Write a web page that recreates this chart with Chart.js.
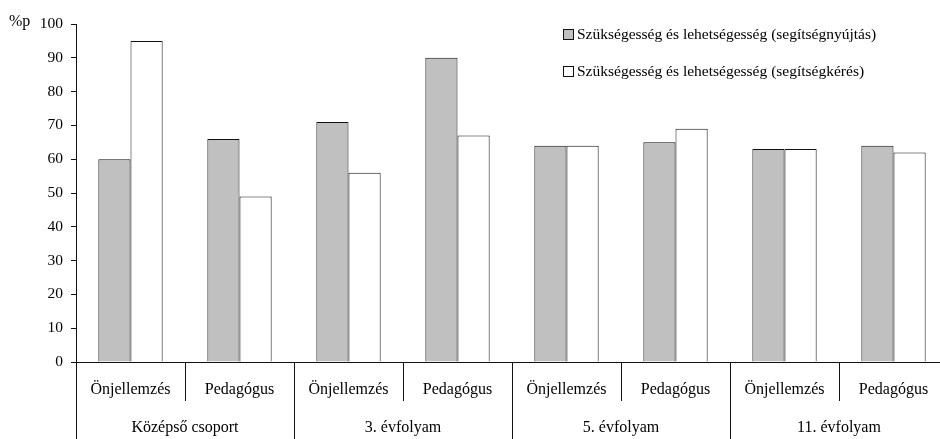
<!DOCTYPE html>
<html>
<head>
<meta charset="utf-8">
<script src="https://cdn.jsdelivr.net/npm/chart.js@4/dist/chart.umd.min.js"></script>
<style>
    html, body { margin: 0; padding: 0; overflow: hidden; background: #fff; }
    #wrap { width: 960px; height: 439px; }
</style>
</head>
<body>
<div id="wrap"><canvas id="chart"></canvas></div>
<script>
// data
const subLabels = ['Önjellemzés', 'Pedagógus', 'Önjellemzés', 'Pedagógus', 'Önjellemzés', 'Pedagógus', 'Önjellemzés', 'Pedagógus'];
const groupLabels = ['Középső csoport', '3. évfolyam', '5. évfolyam', '11. évfolyam'];
const seriesNames = ['Szükségesség és lehetségesség (segítségnyújtás)', 'Szükségesség és lehetségesség (segítségkérés)'];
const helpGiving = [60, 66, 71, 90, 64, 65, 63, 64];
const helpSeeking = [95, 49, 56, 67, 64, 69, 63, 62];
const yTicks = [0, 10, 20, 30, 40, 50, 60, 70, 80, 90, 100];
const yUnit = '%p';

const FONT = 'Liberation Serif, Times New Roman, serif';
const INK = '#111';

// group labels, category dividers, legend and unit label
const extras = {
    id: 'extras',
    afterDraw(chart) {
        const c = chart.ctx;
        const x = chart.scales.x;
        const area = chart.chartArea;
        const step = x.getPixelForValue(1) - x.getPixelForValue(0);
        c.save();
        c.strokeStyle = INK;
        c.lineWidth = 1;
        for (let i = 0; i <= subLabels.length; i++) {
            const px = Math.round(x.getPixelForValue(0) - step / 2 + i * step) + 0.5;
            const end = i % 2 === 0 ? chart.height : area.bottom + 39;
            c.beginPath();
            c.moveTo(px, area.bottom);
            c.lineTo(px, end);
            c.stroke();
        }
        c.fillStyle = '#000';
        c.font = '16px ' + FONT;
        c.textAlign = 'center';
        c.textBaseline = 'middle';
        groupLabels.forEach((g, i) => {
            const px = (x.getPixelForValue(i * 2) + x.getPixelForValue(i * 2 + 1)) / 2;
            c.fillText(g, px, area.bottom + 66);
        });

        // unit
        c.textAlign = 'left';
        c.fillText(yUnit, 9, 22);

        // legend
        c.font = '15.5px ' + FONT;
        const colors = chart.data.datasets.map(d => d.backgroundColor);
        seriesNames.forEach((name, i) => {
            const ly = 35 + i * 37;
            c.fillStyle = colors[i];
            c.fillRect(563.5, ly - 5.5, 10, 10);
            c.strokeRect(563.5, ly - 5.5, 10, 10);
            c.fillStyle = '#000';
            c.fillText(name, 577, ly);
        });
        c.restore();
    }
};

const ctx = document.getElementById('chart').getContext('2d');
const chart = new Chart(ctx, {
    type: 'bar',
    data: {
        labels: subLabels,
        datasets: [{
            label: seriesNames[0],
            data: helpGiving,
            backgroundColor: '#c0c0c0',
            borderColor: INK,
            borderWidth: 1
        }, {
            label: seriesNames[1],
            data: helpSeeking,
            backgroundColor: '#ffffff',
            borderColor: INK,
            borderWidth: 1
        }]
    },
    options: {
        responsive: true,
        maintainAspectRatio: false,
        animation: false,
        layout: { padding: { top: 24, right: 12, left: 0, bottom: 0 } },
        datasets: { bar: { categoryPercentage: 0.59, barPercentage: 1.0 } },
        plugins: {
            legend: { display: false },
            tooltip: { enabled: false }
        },
        scales: {
            x: {
                grid: { display: false, drawTicks: false },
                border: { display: true, color: INK, width: 1 },
                ticks: {
                    color: '#000',
                    font: { family: FONT, size: 16 },
                    padding: 18,
                    maxRotation: 0,
                    autoSkip: false
                },
                afterFit(s) { s.height = 77; }
            },
            y: {
                min: 0,
                max: 100,
                afterBuildTicks(s) { s.ticks = yTicks.map(v => ({ value: v })); },
                grid: { drawOnChartArea: false, drawTicks: true, tickLength: 5, color: INK },
                border: { display: true, color: INK, width: 1 },
                ticks: {
                    color: '#000',
                    font: { family: FONT, size: 15.5 },
                    padding: 8
                },
                afterFit(s) { s.width = 76; }
            }
        }
    },
    plugins: [extras]
});
</script>
</body>
</html>
